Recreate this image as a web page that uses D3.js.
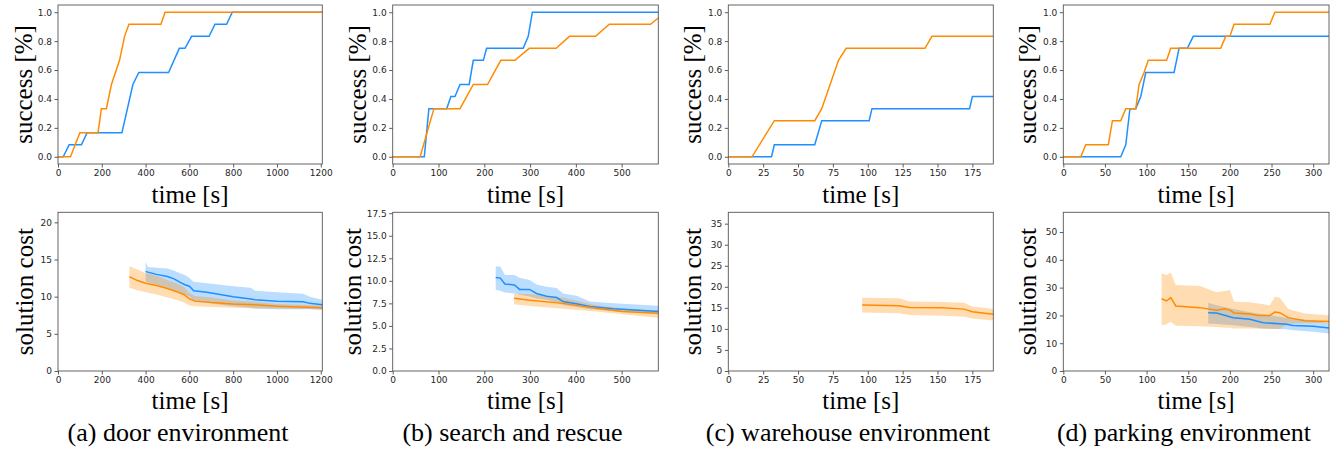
<!DOCTYPE html>
<html>
<head>
<meta charset="utf-8">
<script src="https://cdn.jsdelivr.net/npm/d3@7/dist/d3.min.js"></script>
<style>
  body { margin: 0; background: #fff; }
  svg { display: block; }
  .tick text { font-family: "DejaVu Sans", sans-serif; font-size: 9px; fill: #262626; }
  .tick line { stroke: #333; stroke-width: 0.8px; }
  .lbl { font-family: "Liberation Serif", "Times New Roman", serif; font-size: 25px; fill: #000; }
  .cap { font-family: "Liberation Serif", "Times New Roman", serif; font-size: 26px; fill: #000; }
</style>
</head>
<body>
<div id="chart"></div>
<script>
(function () {
	"use strict";

	var blue = "#1e90ff", orange = "#ff8c00";

	// success rate curves, [time, success]
	var doorSuccessBlue = [[0,0],[24,0],[51,0.083],[107,0.083],[133,0.167],[292,0.167],[342,0.5],[369,0.583],[505,0.583],[554,0.75],[580,0.75],[610,0.833],[690,0.833],[717,0.917],[770,0.917],[796,1],[1207,1]];
	var doorSuccessOrange = [[0,0],[57,0],[100,0.167],[183,0.167],[198,0.333],[221,0.333],[244,0.5],[281,0.667],[304,0.833],[324,0.917],[470,0.917],[489,1],[1207,1]];
	var sarSuccessBlue = [[0,0],[69,0],[79,0.333],[118,0.333],[127,0.417],[136,0.417],[147,0.5],[167,0.5],[176,0.667],[198,0.667],[205,0.75],[285,0.75],[296,0.833],[305,1],[580,1]];
	var sarSuccessOrange = [[0,0],[60,0],[90,0.333],[147,0.333],[176,0.5],[207,0.5],[236,0.667],[267,0.667],[298,0.75],[357,0.75],[386,0.833],[443,0.833],[473,0.917],[563,0.917],[580,0.96]];
	var whSuccessBlue = [[0,0],[31,0],[33,0.083],[62,0.083],[67,0.25],[101,0.25],[103,0.333],[173,0.333],[175,0.417],[190,0.417]];
	var whSuccessOrange = [[0,0],[17,0],[33,0.25],[62,0.25],[67,0.333],[79,0.667],[84.5,0.75],[141,0.75],[146,0.833],[190,0.833]];
	var parkSuccessBlue = [[0,0],[69,0],[75,0.083],[80,0.333],[87,0.333],[93,0.417],[99,0.583],[133,0.583],[139,0.75],[149,0.75],[156,0.833],[319,0.833]];
	var parkSuccessOrange = [[0,0],[21,0],[27,0.083],[54,0.083],[59,0.25],[69,0.25],[75,0.333],[87,0.333],[91,0.5],[97,0.583],[102,0.667],[124,0.667],[129,0.75],[189,0.75],[195,0.833],[200,0.833],[205,0.917],[248,0.917],[254,1],[319,1]];

	// solution cost, [time, mean, lower, upper]
	var doorCostBlue = [[400,13.4,12.0,14.7],[410,13.3,11.9,14.0],[450,13.0,11.6,13.9],[500,12.7,11.2,13.8],[530,12.4,10.9,13.5],[560,11.9,10.6,13.1],[580,11.6,10.3,12.9],[600,11.4,10.0,12.5],[620,10.8,9.4,12.0],[680,10.6,9.2,11.8],[740,10.3,8.9,11.6],[800,10.0,8.7,11.4],[880,9.7,8.5,11.2],[900,9.6,8.4,10.8],[1000,9.4,8.3,10.6],[1120,9.3,8.3,10.4],[1150,9.1,8.3,10.0],[1207,8.9,8.2,9.6]];
	var doorCostOrange = [[326,12.7,11.2,14.1],[360,12.2,10.9,13.7],[400,11.8,10.6,13.2],[450,11.5,10.3,12.8],[500,11.1,9.9,12.2],[550,10.6,9.5,11.7],[575,10.3,9.2,11.3],[600,9.7,8.8,10.5],[625,9.4,8.7,10.1],[700,9.2,8.6,9.9],[800,9.0,8.5,9.5],[900,8.9,8.4,9.3],[1000,8.7,8.4,9.0],[1207,8.5,8.3,8.8]];
	var sarCostBlue = [[225,10.36,9.0,11.58],[235,10.3,8.9,11.6],[245,9.65,8.7,10.65],[266,9.55,8.6,10.65],[277,9.05,8.45,10.35],[299,9.05,8.25,10.1],[314,8.6,8.05,9.6],[336,8.3,7.9,9.35],[358,8.15,7.6,9.2],[372,7.7,7.3,8.6],[401,7.45,7.1,8.35],[431,7.15,6.85,7.7],[482,6.9,6.65,7.5],[580,6.6,6.3,7.25]];
	var sarCostOrange = [[265,8.07,7.4,8.55],[299,7.85,7.2,8.55],[372,7.5,6.9,8.15],[445,6.95,6.6,7.3],[500,6.6,6.3,6.95],[580,6.4,5.9,6.75]];
	var whCostOrange = [[96,15.7,13.9,17.4],[122.6,15.5,13.7,17.3],[129.8,15.1,13.3,16.5],[153.6,15.0,13.1,16.4],[169,14.7,12.9,16.2],[175,14.1,12.5,15.3],[190,13.5,12.0,14.7]];
	var parkCostBlue = [[174,21.0,17.1,24.6],[184,20.9,16.9,23.7],[204,19.2,16.5,22.3],[224,18.6,15.8,21.1],[240,17.4,15.3,20.4],[268,16.8,15.0,19.2],[276,16.4,14.7,18.9],[300,16.1,14.1,18.3],[319,15.5,13.5,17.1]];
	var parkCostOrange = [[118,26.0,16.5,35.1],[124,25.2,16.8,34.5],[129,26.4,17.7,35.4],[135,23.4,16.3,30.9],[164,22.8,16.1,30.6],[184,21.9,15.8,28.3],[194,22.4,15.6,28.8],[200,21.9,15.6,29.1],[205,20.9,15.3,24.9],[224,20.5,15.3,24.7],[234,20.0,15.2,24.3],[248,20.0,15.1,23.7],[254,21.2,15.1,26.7],[260,21.0,15.1,26.4],[270,19.2,17.0,22.3],[290,18.1,17.3,20.7],[319,17.8,17.2,20.1]];

	// axes
	var xTicksDoor = [0,200,400,600,800,1000,1200];
	var xTicksSar = [0,100,200,300,400,500];
	var xTicksWh = [0,25,50,75,100,125,150,175];
	var xTicksPark = [0,50,100,150,200,250,300];
	var yTicksSuccess = [0,0.2,0.4,0.6,0.8,1.0];
	var yTicksCostDoor = [0,5,10,15,20];
	var yTicksCostSar = [0,2.5,5,7.5,10,12.5,15,17.5];
	var yTicksCostWh = [0,5,10,15,20,25,30,35];
	var yTicksCostPark = [0,10,20,30,40,50];
	var captions = ["(a) door environment", "(b) search and rescue", "(c) warehouse environment", "(d) parking environment"];

	var svg = d3.select("#chart").append("svg").attr("width", 1340).attr("height", 449);

	var cols = [
		{l: 58, r: 322.3, xmax: 1207, xt: xTicksDoor, ylTop: 24, ylBot: 25, cap: 178},
		{l: 392.7, r: 658.3, xmax: 580, xt: xTicksSar, ylTop: 358.3, ylBot: 353.3, cap: 512.5},
		{l: 728.3, r: 993.3, xmax: 190, xt: xTicksWh, ylTop: 693.3, ylBot: 693.3, cap: 848},
		{l: 1063.3, r: 1329, xmax: 319, xt: xTicksPark, ylTop: 1028.3, ylBot: 1028.3, cap: 1184}
	];
	var topRow = {t: 5, b: 164}, botRow = {t: 212.3, b: 371};

	var successSets = [
		[doorSuccessBlue, doorSuccessOrange],
		[sarSuccessBlue, sarSuccessOrange],
		[whSuccessBlue, whSuccessOrange],
		[parkSuccessBlue, parkSuccessOrange]
	];
	var costSets = [
		{blue: doorCostBlue, orange: doorCostOrange, ymax: 21.35, yt: yTicksCostDoor, fmt: d3.format("d")},
		{blue: sarCostBlue, orange: sarCostOrange, ymax: 17.6, yt: yTicksCostSar, fmt: d3.format(".1f")},
		{blue: null, orange: whCostOrange, ymax: 37.7, yt: yTicksCostWh, fmt: d3.format("d")},
		{blue: parkCostBlue, orange: parkCostOrange, ymax: 57.1, yt: yTicksCostPark, fmt: d3.format("d")}
	];

	function drawFrame(g, x, y, w, h, xt, yt, yfmt) {
		g.append("g")
			.attr("transform", "translate(0," + h + ")")
			.call(d3.axisBottom(x).tickValues(xt).tickFormat(d3.format("d")).tickSize(3.5).tickPadding(2).tickSizeOuter(0))
			.call(function (a) { a.select(".domain").remove(); });
		g.append("g")
			.call(d3.axisLeft(y).tickValues(yt).tickFormat(yfmt).tickSize(3.5).tickPadding(2.5).tickSizeOuter(0))
			.call(function (a) { a.select(".domain").remove(); });
		g.append("rect")
			.attr("width", w).attr("height", h)
			.attr("fill", "none").attr("stroke", "#555").attr("stroke-width", 0.9);
	}

	cols.forEach(function (c, i) {
		var w = c.r - c.l;

		// top: success
		var h = topRow.b - topRow.t;
		var g = svg.append("g").attr("transform", "translate(" + c.l + "," + topRow.t + ")");
		var x = d3.scaleLinear().domain([0, c.xmax]).range([0, w]);
		var y = d3.scaleLinear().domain([-0.05, 1.05]).range([h, 0]);
		var line = d3.line().x(function (d) { return x(d[0]); }).y(function (d) { return y(d[1]); });
		g.append("path").datum(successSets[i][0]).attr("d", line)
			.attr("fill", "none").attr("stroke", blue).attr("stroke-width", 1.5);
		g.append("path").datum(successSets[i][1]).attr("d", line)
			.attr("fill", "none").attr("stroke", orange).attr("stroke-width", 1.5);
		drawFrame(g, x, y, w, h, c.xt, yTicksSuccess, d3.format(".1f"));
		svg.append("text").attr("class", "lbl")
			.attr("transform", "translate(" + c.ylTop + "," + ((topRow.t + topRow.b) / 2) + ") rotate(-90)")
			.attr("text-anchor", "middle").attr("dy", "0.3em")
			.text("success [%]");
		svg.append("text").attr("class", "lbl")
			.attr("x", (c.l + c.r) / 2).attr("y", 202.7)
			.attr("text-anchor", "middle").text("time [s]");

		// bottom: solution cost
		var cs = costSets[i];
		h = botRow.b - botRow.t;
		var g2 = svg.append("g").attr("transform", "translate(" + c.l + "," + botRow.t + ")");
		var y2 = d3.scaleLinear().domain([0, cs.ymax]).range([h, 0]);
		var area = d3.area().x(function (d) { return x(d[0]); })
			.y0(function (d) { return y2(d[2]); }).y1(function (d) { return y2(d[3]); });
		var mean = d3.line().x(function (d) { return x(d[0]); }).y(function (d) { return y2(d[1]); });
		if (cs.blue) {
			g2.append("path").datum(cs.blue).attr("d", area).attr("fill", blue).attr("fill-opacity", 0.3);
		}
		g2.append("path").datum(cs.orange).attr("d", area).attr("fill", orange).attr("fill-opacity", 0.3);
		if (cs.blue) {
			g2.append("path").datum(cs.blue).attr("d", mean)
				.attr("fill", "none").attr("stroke", blue).attr("stroke-width", 1.5);
		}
		g2.append("path").datum(cs.orange).attr("d", mean)
			.attr("fill", "none").attr("stroke", orange).attr("stroke-width", 1.5);
		drawFrame(g2, x, y2, w, h, c.xt, cs.yt, cs.fmt);
		svg.append("text").attr("class", "lbl")
			.attr("transform", "translate(" + c.ylBot + "," + ((botRow.t + botRow.b) / 2) + ") rotate(-90)")
			.attr("text-anchor", "middle").attr("dy", "0.3em")
			.text("solution cost");
		svg.append("text").attr("class", "lbl")
			.attr("x", (c.l + c.r) / 2).attr("y", 409)
			.attr("text-anchor", "middle").text("time [s]");

		svg.append("text").attr("class", "cap")
			.attr("x", c.cap).attr("y", 441)
			.attr("text-anchor", "middle").text(captions[i]);
	});
})();
</script>
</body>
</html>
